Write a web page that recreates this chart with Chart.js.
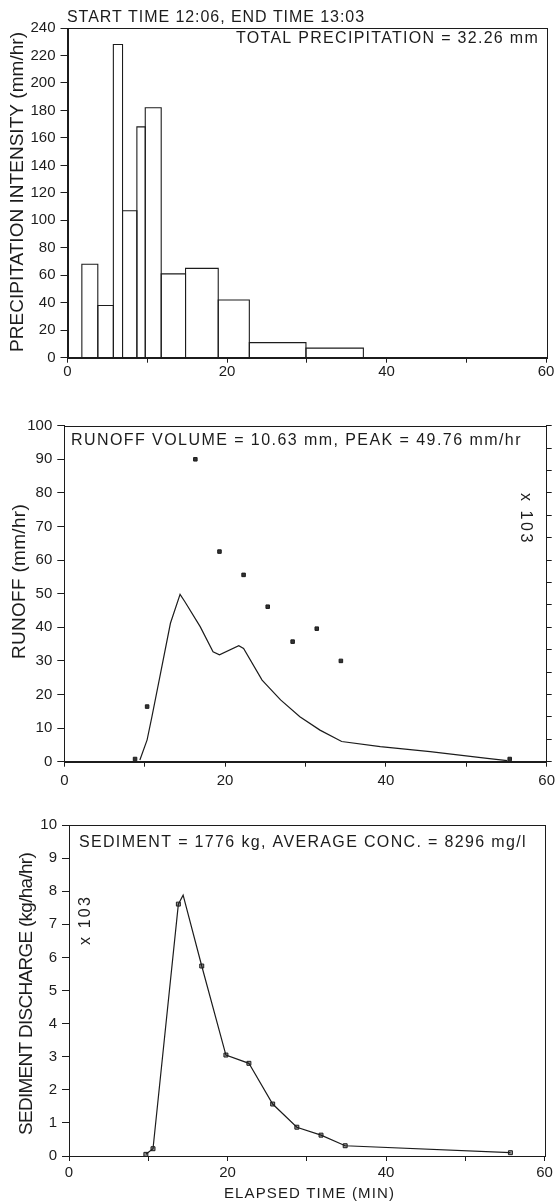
<!DOCTYPE html>
<html>
<head>
<meta charset="utf-8">
<script src="https://cdn.jsdelivr.net/npm/chart.js@4.4.1/dist/chart.umd.min.js"></script>
<style>
  body { margin: 0; background: #fff; width: 555px; height: 1204px; overflow: hidden; }
  canvas { display: block; }
</style>
</head>
<body>
<canvas id="rain" width="555" height="380"></canvas>
<canvas id="runoff" width="555" height="420"></canvas>
<canvas id="sediment" width="555" height="404"></canvas>
<script>
var FONT = '"Liberation Sans", Arial, sans-serif';
var INK = '#1c1c1c';

// precipitation histogram: interval start / end (min) and intensity (mm/hr)
var rainFrom = [1.8, 3.8, 5.75, 6.9, 8.7, 9.75, 11.75, 14.8, 18.9, 22.8, 29.9];
var rainTo   = [3.8, 5.75, 6.9, 8.7, 9.75, 11.75, 14.8, 18.9, 22.8, 29.9, 37.1];
var rainRate = [68, 38, 228, 107, 168, 182, 61, 65, 42, 11, 7];

// runoff hydrograph (mm/hr)
var runoffTime = [9.4, 10.3, 10.9, 11.9, 13.2, 14.4, 15.0, 16.9, 18.5, 19.3, 21.7, 22.3, 24.6, 26.9, 29.3, 31.8, 34.5, 39.3, 45.5, 52.6, 55.1];
var runoffRate = [0.5, 6.5, 13.4, 25.5, 41.2, 49.8, 47.6, 40.2, 32.7, 31.8, 34.5, 33.7, 24.3, 18.4, 13.4, 9.4, 6.0, 4.5, 3.0, 1.0, 0.3];

// sampled points on the right-hand scale (x 10^3)
var sampleTime = [8.8, 10.3, 16.3, 19.3, 22.3, 25.3, 28.4, 31.4, 34.4, 55.4];
var sampleConc = [0.12, 2.46, 13.5, 9.38, 8.34, 6.92, 5.36, 5.94, 4.5, 0.12];

// sediment discharge (x 10^3 kg/ha/hr): drawn curve and measured points
var sedCurveTime = [9.7, 10.6, 13.8, 14.4, 16.75, 19.8, 22.7, 25.7, 28.75, 31.8, 34.85, 55.7];
var sedCurveRate = [0.05, 0.22, 7.61, 7.88, 5.74, 3.05, 2.80, 1.57, 0.87, 0.63, 0.31, 0.10];
var sedTime = [9.7, 10.6, 13.8, 16.75, 19.8, 22.7, 25.7, 28.75, 31.8, 34.85, 55.7];
var sedRate = [0.05, 0.22, 7.61, 5.74, 3.05, 2.80, 1.57, 0.87, 0.63, 0.31, 0.10];

var timeLabels = [0, 20, 40, 60];

function pts(xs, ys) {
    return xs.map(function (x, i) { return { x: x, y: ys[i] }; });
}

function timeAxis(height, pad) {
    return {
        type: 'linear', min: 0, max: 60,
        afterFit: function (s) {
            s.height = height;
            // let the end labels hang over the edge like in the scan
            s.paddingLeft = 0;
            s.paddingRight = 0;
        },
        border: { color: INK, width: 1 },
        grid: { drawOnChartArea: false, tickLength: 5, color: INK },
        ticks: {
            stepSize: 10, autoSkip: false, maxRotation: 0, padding: pad, color: INK,
            font: { family: FONT, size: 15 },
            callback: function (v) { return timeLabels.indexOf(v) >= 0 ? String(v) : ''; }
        }
    };
}

function valueAxis(max, step, width) {
    return {
        type: 'linear', min: 0, max: max,
        afterFit: function (s) { s.width = width; s.paddingTop = 0; s.paddingBottom = 0; },
        border: { color: INK, width: 1 },
        grid: { drawOnChartArea: false, tickLength: 7, color: INK },
        ticks: { stepSize: step, padding: 5, color: INK, font: { family: FONT, size: 15 } }
    };
}

// frame round the plot area + free text (stretched to the widths seen in the scan)
function decor(items) {
    return {
        id: 'decor',
        afterDraw: function (chart) {
            var ctx = chart.ctx, a = chart.chartArea;
            ctx.save();
            ctx.strokeStyle = INK;
            ctx.lineWidth = 1;
            ctx.strokeRect(Math.round(a.left) + 0.5, Math.round(a.top) + 0.5,
                Math.round(a.right - a.left), Math.round(a.bottom - a.top));
            ctx.restore();
            items.forEach(function (t) {
                ctx.save();
                ctx.font = t.size + 'px ' + FONT;
                ctx.fillStyle = INK;
                ctx.textBaseline = 'middle';
                ctx.textAlign = 'left';
                ctx.translate(t.x, t.y);
                ctx.rotate(t.rot || 0);
                var w = ctx.measureText(t.text).width;
                if ('letterSpacing' in ctx) {
                    ctx.letterSpacing = ((t.w - w) / t.text.length) + 'px';
                    ctx.fillText(t.text, -t.w / 2, 0);
                } else {
                    ctx.scale(t.w / w, 1);
                    ctx.fillText(t.text, -w / 2, 0);
                }
                ctx.restore();
            });
        }
    };
}

var base = {
    responsive: false,
    animation: false,
    events: [],
    plugins: { legend: { display: false }, tooltip: { enabled: false } }
};

// panel 1: precipitation
var rainSets = rainRate.map(function (v, i) {
    return {
        data: [{ x: rainFrom[i], y: 0 }, { x: rainFrom[i], y: v }, { x: rainTo[i], y: v }, { x: rainTo[i], y: 0 }],
        showLine: true, pointRadius: 0, borderColor: INK, borderWidth: 1.1
    };
});

new Chart(document.getElementById('rain'), {
    type: 'scatter',
    data: { datasets: rainSets },
    options: Object.assign({}, base, {
        layout: { padding: { top: 28, right: 9, left: 0, bottom: 0 } },
        scales: { x: timeAxis(22.3, 0), y: valueAxis(240, 20, 67.5) }
    }),
    plugins: [decor([
        { text: 'START TIME 12:06, END TIME 13:03', x: 216, y: 17.5, w: 298, size: 16 },
        { text: 'TOTAL PRECIPITATION = 32.26 mm', x: 387.5, y: 39, w: 303, size: 16 },
        { text: 'PRECIPITATION INTENSITY (mm/hr)', x: 18, y: 192, w: 320, size: 19, rot: -Math.PI / 2 }
    ])]
});

// panel 2: runoff
var y2 = {
    type: 'linear', position: 'right', min: 0, max: 15,
    afterFit: function (s) { s.width = 8.3; s.paddingTop = 0; s.paddingBottom = 0; },
    border: { color: INK, width: 1 },
    grid: { drawOnChartArea: false, tickLength: 5, color: INK },
    ticks: { stepSize: 1, display: false }
};

new Chart(document.getElementById('runoff'), {
    type: 'scatter',
    data: {
        datasets: [
            { data: pts(runoffTime, runoffRate), showLine: true, pointRadius: 0, borderColor: INK, borderWidth: 1.2, yAxisID: 'y' },
            { data: pts(sampleTime, sampleConc), pointStyle: 'rect', pointRadius: 2.5, backgroundColor: '#333', borderColor: INK, borderWidth: 1, yAxisID: 'y2' }
        ]
    },
    options: Object.assign({}, base, {
        layout: { padding: { top: 45.7, right: 0, left: 0, bottom: 0 } },
        scales: { x: timeAxis(38.3, 5), y: valueAxis(100, 10, 64.3), y2: y2 }
    }),
    plugins: [decor([
        { text: 'RUNOFF VOLUME = 10.63 mm, PEAK = 49.76 mm/hr', x: 296.4, y: 61, w: 451, size: 16 },
        { text: 'x 103', x: 525, y: 139, w: 52, size: 16, rot: Math.PI / 2 },
        { text: 'RUNOFF (mm/hr)', x: 20, y: 201.5, w: 155, size: 19, rot: -Math.PI / 2 }
    ])]
});

// panel 3: sediment
new Chart(document.getElementById('sediment'), {
    type: 'scatter',
    data: {
        datasets: [
            { data: pts(sedCurveTime, sedCurveRate), showLine: true, pointRadius: 0, borderColor: INK, borderWidth: 1.2 },
            { data: pts(sedTime, sedRate), pointStyle: 'rect', pointRadius: 2.8, backgroundColor: '#999', borderColor: INK, borderWidth: 1 }
        ]
    },
    options: Object.assign({}, base, {
        layout: { padding: { top: 25, right: 10.5, left: 0, bottom: 0 } },
        scales: { x: timeAxis(48, 3), y: valueAxis(10, 1, 69) }
    }),
    plugins: [decor([
        { text: 'SEDIMENT = 1776 kg, AVERAGE CONC. = 8296 mg/l', x: 302.9, y: 43, w: 448, size: 16 },
        { text: 'x 103', x: 86, y: 120, w: 50, size: 16, rot: -Math.PI / 2 },
        { text: 'SEDIMENT DISCHARGE (kg/ha/hr)', x: 27, y: 194, w: 282, size: 19, rot: -Math.PI / 2 },
        { text: 'ELAPSED TIME (MIN)', x: 309.5, y: 394, w: 171, size: 15 }
    ])]
});
</script>
</body>
</html>
